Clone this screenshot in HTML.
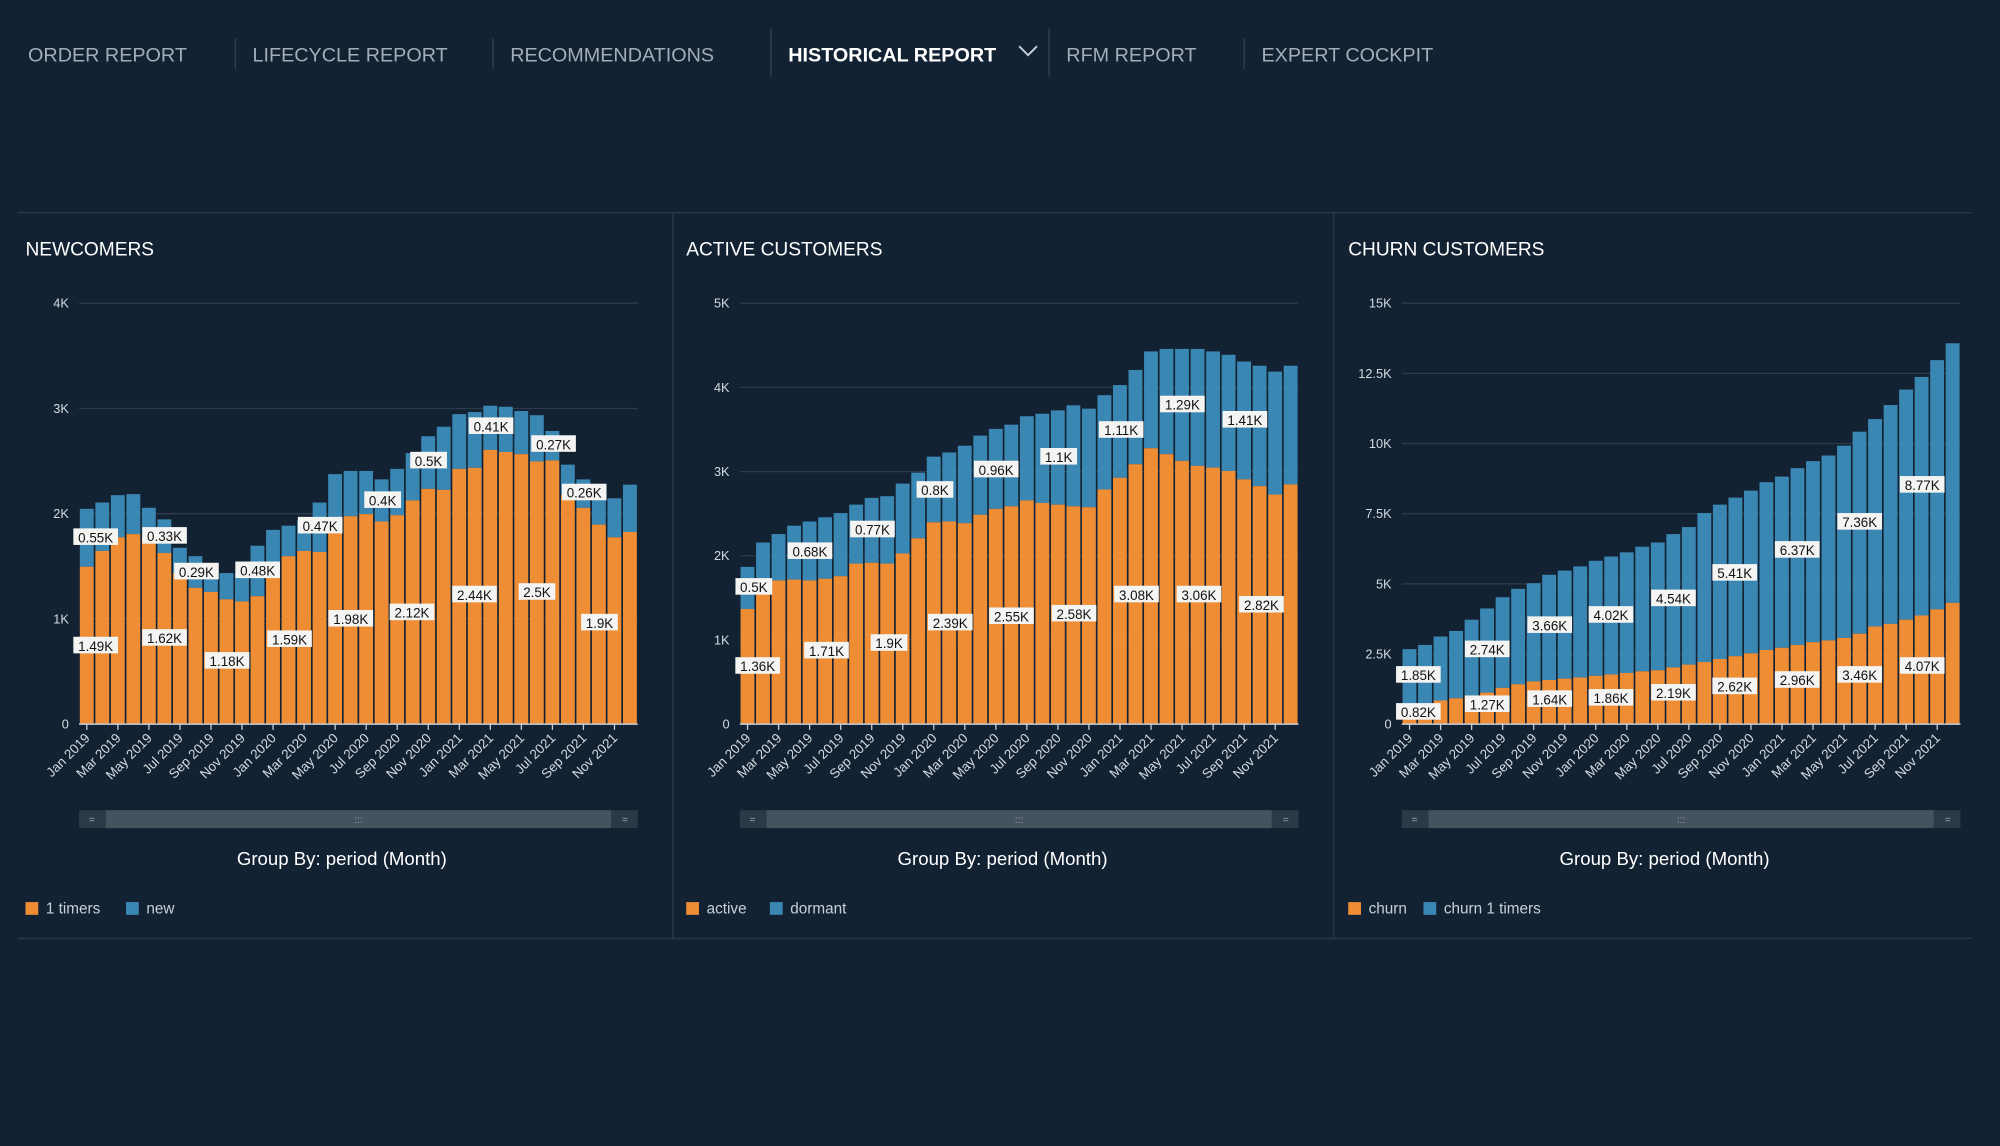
<!DOCTYPE html>
<html><head><meta charset="utf-8"><style>
html,body{margin:0;padding:0;background:#132233;}
svg{display:block;font-family:"Liberation Sans",sans-serif;}
</style></head><body>
<svg id="s" width="2000" height="1146" viewBox="0 0 1568 898" xmlns="http://www.w3.org/2000/svg">
<rect width="1568" height="898" fill="#132233"/>
<g font-size="15.5" fill="#a3adb8">
<text x="22" y="48">ORDER REPORT</text>
<text x="198" y="48">LIFECYCLE REPORT</text>
<text x="400" y="48">RECOMMENDATIONS</text>
<text x="618" y="48" fill="#ffffff" font-weight="bold">HISTORICAL REPORT</text>
<text x="836" y="48">RFM REPORT</text>
<text x="989" y="48">EXPERT COCKPIT</text>
</g>
<g stroke="#34424f" stroke-width="1">
<line x1="184.5" y1="30" x2="184.5" y2="54"/>
<line x1="386.5" y1="30" x2="386.5" y2="54"/>
<line x1="604.5" y1="22" x2="604.5" y2="60"/>
<line x1="822.5" y1="22" x2="822.5" y2="60"/>
<line x1="975.5" y1="30" x2="975.5" y2="54"/>
</g>
<path d="M799 36 L806 43 L813 36" stroke="#c8d0d8" stroke-width="1.5" fill="none"/>
<g stroke="#2a3a49" stroke-width="1">
<line x1="14" y1="166.5" x2="1546" y2="166.5"/>
<line x1="14" y1="735.5" x2="1546" y2="735.5"/>
<line x1="527.5" y1="166" x2="527.5" y2="735"/>
<line x1="1045.5" y1="166" x2="1045.5" y2="735"/>
</g>
<g id="charts"></g>
</svg>
<script>
const NS="http://www.w3.org/2000/svg";
const root=document.getElementById("charts");
function el(t,a,txt){const e=document.createElementNS(NS,t);for(const k in a)e.setAttribute(k,a[k]);if(txt!==undefined)e.textContent=txt;root.appendChild(e);return e;}
const months=["Jan","Feb","Mar","Apr","May","Jun","Jul","Aug","Sep","Oct","Nov","Dec"];
const OR="#ef8d35",BL="#3b87b4";
const charts=[
{x0:62,title:"NEWCOMERS",max:4,ticks:[[0,"0"],[1,"1K"],[2,"2K"],[3,"3K"],[4,"4K"]],
 o:[1.49,1.64,1.77,1.8,1.77,1.62,1.43,1.29,1.25,1.18,1.16,1.21,1.39,1.59,1.64,1.63,1.83,1.97,1.99,1.92,1.98,2.12,2.23,2.22,2.42,2.43,2.6,2.58,2.56,2.49,2.5,2.17,2.05,1.89,1.77,1.82],
 t:[2.04,2.1,2.17,2.18,2.05,1.94,1.67,1.59,1.5,1.43,1.42,1.69,1.84,1.88,1.93,2.1,2.37,2.4,2.4,2.32,2.42,2.57,2.73,2.82,2.94,2.96,3.02,3.01,2.97,2.93,2.78,2.46,2.32,2.14,2.14,2.27],
 labels:[["0.55K",75,421],["1.49K",75,506],["0.33K",129,420],["1.62K",129,500],["0.29K",154,448],["1.18K",178,518],["0.48K",202,447],["1.59K",227,501],["0.47K",251,412],["1.98K",275,485],["0.4K",300,392],["2.12K",323,480],["0.5K",336,361],["2.44K",372,466],["0.41K",385,334],["2.5K",421,464],["0.27K",434,348],["1.9K",470,488],["0.26K",458,386]],
 leg:["1 timers","new"]},
{x0:580,title:"ACTIVE CUSTOMERS",max:5,ticks:[[0,"0"],[1,"1K"],[2,"2K"],[3,"3K"],[4,"4K"],[5,"5K"]],
 o:[1.36,1.6,1.7,1.71,1.7,1.72,1.75,1.9,1.91,1.9,2.02,2.2,2.39,2.4,2.38,2.48,2.55,2.58,2.65,2.62,2.6,2.58,2.57,2.78,2.92,3.08,3.27,3.2,3.12,3.06,3.04,3.0,2.9,2.82,2.72,2.84],
 t:[1.86,2.15,2.25,2.35,2.4,2.45,2.5,2.6,2.68,2.7,2.85,2.98,3.17,3.22,3.3,3.42,3.5,3.55,3.65,3.68,3.72,3.78,3.74,3.9,4.02,4.2,4.42,4.45,4.45,4.45,4.42,4.38,4.3,4.25,4.18,4.25],
 labels:[["0.5K",591,460],["1.36K",594,522],["0.68K",635,432],["1.71K",648,510],["0.77K",684,415],["1.9K",697,504],["0.8K",733,384],["2.39K",745,488],["0.96K",781,368],["2.55K",793,483],["1.1K",830,358],["2.58K",842,481],["1.11K",879,337],["3.08K",891,466],["1.29K",927,317],["3.06K",940,466],["1.41K",976,329],["2.82K",989,474]],
 leg:["active","dormant"]},
{x0:1099,title:"CHURN CUSTOMERS",max:15,ticks:[[0,"0"],[2.5,"2.5K"],[5,"5K"],[7.5,"7.5K"],[10,"10K"],[12.5,"12.5K"],[15,"15K"]],
 o:[0.2,0.5,0.82,0.9,1.0,1.1,1.27,1.4,1.5,1.55,1.6,1.64,1.7,1.75,1.8,1.86,1.9,2.0,2.1,2.19,2.3,2.4,2.5,2.62,2.7,2.8,2.9,2.96,3.05,3.2,3.46,3.55,3.7,3.85,4.07,4.3],
 t:[2.65,2.8,3.1,3.3,3.7,4.1,4.5,4.8,5.0,5.3,5.45,5.6,5.8,5.95,6.1,6.3,6.45,6.75,7.0,7.5,7.8,8.05,8.3,8.6,8.8,9.1,9.35,9.55,9.9,10.4,10.85,11.35,11.9,12.35,12.95,13.55],
 labels:[["1.85K",1112,529],["0.82K",1112,558],["2.74K",1166,509],["1.27K",1166,552],["3.66K",1215,490],["1.64K",1215,548],["4.02K",1263,482],["1.86K",1263,547],["4.54K",1312,469],["2.19K",1312,543],["5.41K",1360,449],["2.62K",1360,538],["6.37K",1409,431],["2.96K",1409,533],["7.36K",1458,409],["3.46K",1458,529],["8.77K",1507,380],["4.07K",1507,522]],
 leg:["churn","churn 1 timers"]}
];
const Y0=567,YT=237,W=438;
charts.forEach(c=>{
 const px=c.x0-42;
 el("text",{x:px,y:200,"font-size":15,fill:"#ffffff"},c.title);
 const sc=(Y0-YT)/c.max;
 c.ticks.forEach(([v,l])=>{const y=Y0-v*sc;
  if(v>0)el("line",{x1:c.x0,y1:y+.5,x2:c.x0+W,y2:y+.5,stroke:"#2c3c4c","stroke-width":1});
  el("text",{x:c.x0-8,y:y+4,"font-size":10,fill:"#d4dae0","text-anchor":"end"},l);});
 const slot=W/36;
 for(let i=0;i<36;i++){const x=c.x0+i*slot+0.6,w=slot-1.3;
  const yo=Y0-c.o[i]*sc,yt=Y0-c.t[i]*sc;
  el("rect",{x:x,y:yt,width:w,height:yo-yt,fill:BL});
  el("rect",{x:x,y:yo,width:w,height:Y0-yo,fill:OR});}
 el("line",{x1:c.x0,y1:Y0+.5,x2:c.x0+W,y2:Y0+.5,stroke:"#c8d0d8","stroke-width":1.2});
 for(let i=0;i<36;i+=2){const x=c.x0+i*slot+slot/2;
  el("line",{x1:x,y1:Y0,x2:x,y2:Y0+5,stroke:"#c8d0d8","stroke-width":1});
  el("text",{x:x+3,y:Y0+12,"font-size":10.5,fill:"#d4dae0","text-anchor":"end",transform:`rotate(-45 ${x+3} ${Y0+12})`},months[i%12]+" "+(2019+Math.floor(i/12)));}
 c.labels.forEach(([t,x,y])=>{const w=t.length*6.2+4;
  el("rect",{x:x-w/2,y:y-7,width:w,height:13,fill:"#f4f4f2"});
  el("text",{x:x,y:y+4,"font-size":10.5,fill:"#111","text-anchor":"middle"},t);});
 el("rect",{x:c.x0,y:635,width:W,height:14,fill:"#2b3a47"});
 el("rect",{x:c.x0+21,y:635,width:W-42,height:14,fill:"#45535f"});
 el("text",{x:c.x0+W/2,y:645,"font-size":8,fill:"#9aa5ae","text-anchor":"middle"},":::");
 el("text",{x:c.x0+10,y:645,"font-size":8,fill:"#9aa5ae","text-anchor":"middle"},"=");
 el("text",{x:c.x0+W-10,y:645,"font-size":8,fill:"#9aa5ae","text-anchor":"middle"},"=");
 el("text",{x:c.x0+206,y:678,"font-size":14.6,fill:"#ffffff","text-anchor":"middle"},"Group By: period (Month)");
 el("rect",{x:px,y:707,width:10,height:10,fill:OR});
 el("text",{x:px+16,y:716,"font-size":12,fill:"#c8d0d8"},c.leg[0]);
 const lx=px+16+c.leg[0].length*6.6+10;
 el("rect",{x:lx,y:707,width:10,height:10,fill:BL});
 el("text",{x:lx+16,y:716,"font-size":12,fill:"#c8d0d8"},c.leg[1]);
});
</script>
</body></html>
